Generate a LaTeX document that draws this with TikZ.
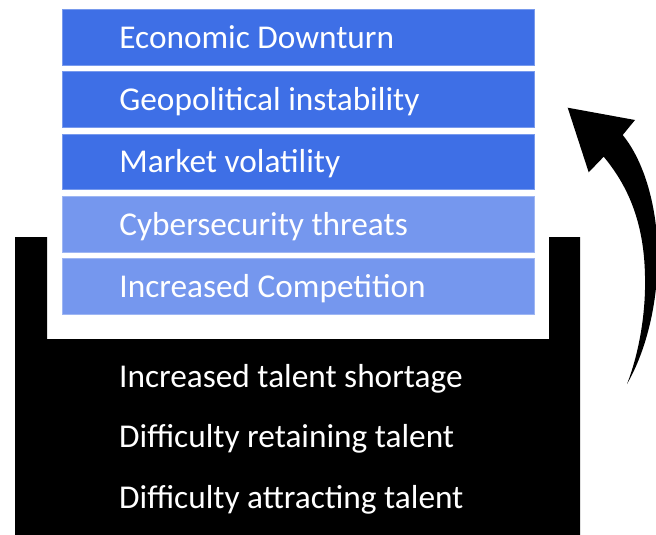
\documentclass[tikz,border=0pt]{standalone}
\usepackage{fontspec}
\setmainfont{Carlito}
\definecolor{riskdark}{HTML}{3E6FE6}
\definecolor{risklight}{HTML}{7597EE}
\begin{document}
\begin{tikzpicture}[x=1pt,y=-1pt,
  riskbox/.style={anchor=north west, minimum width=472pt, minimum height=55.5pt,
    inner ysep=0pt, inner xsep=57pt, text width=358pt, align=flush left,
    text height=39pt, text depth=16.5pt, text=white,
    font=\fontsize{33.3}{36}\selectfont, draw=#1!70!white, line width=0.8pt, fill=#1},
  talent/.style={anchor=base west, inner sep=0pt, text=white,
    font=\fontsize{33.3}{36}\selectfont}]
\useasboundingbox (0,0) rectangle (656,535);

% open container holding the talent issues
\fill[black] (15,237) -- (47,237) -- (47,339) -- (549,339) -- (549,237)
  -- (580,237) -- (580,535) -- (15,535) -- cycle;

% stacked external factors
\node[riskbox=riskdark]  (econ)  at (62,9.5)   {Economic Downturn};
\node[riskbox=riskdark]  (geo)   at (62,71.5)  {Geopolitical instability};
\node[riskbox=riskdark]  (mkt)   at (62,133.5) {Market volatility};
\node[riskbox=risklight] (cyber) at (62,196)   {Cybersecurity threats};
\node[riskbox=risklight] (comp)  at (62,258)   {Increased Competition};

% talent issues inside the container
\node[talent] (shortage)  at (119,387) {Increased talent shortage};
\node[talent] (retain)    at (119,447) {Difficulty retaining talent};
\node[talent] (attract)   at (119,508) {Difficulty attracting talent};

% tapered curved arrow pointing back up
\fill[black] (627,384)
  .. controls (638,356) and (646,316) .. (645,276)
  .. controls (644,222) and (628,186) .. (603.7,156.7)
  -- (588.7,172.3) -- (567.7,107.7) -- (635,120) -- (622.7,135)
  .. controls (648,166) and (661,222) .. (657,276)
  .. controls (654,322) and (641,360) .. (627,384) -- cycle;
\end{tikzpicture}
\end{document}
